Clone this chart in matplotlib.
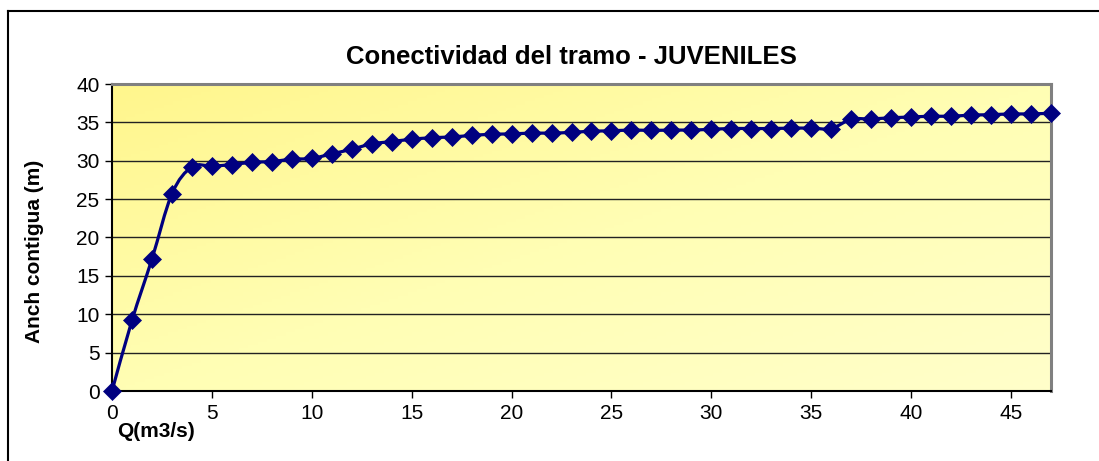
import numpy as np
import matplotlib
matplotlib.use("Agg")
import matplotlib.pyplot as plt
from matplotlib.path import Path
from matplotlib.patches import PathPatch
from matplotlib.lines import Line2D

# Datos
caudal = list(range(48))  # Q (m3/s)
anchura = [0.0, 9.2, 17.2, 25.7, 29.2, 29.3, 29.5, 29.8, 29.9, 30.2,
           30.3, 30.9, 31.5, 32.2, 32.5, 32.8, 33.0, 33.1, 33.3, 33.45,
           33.5, 33.6, 33.6, 33.7, 33.85, 33.9, 34.0, 33.95, 34.0, 34.0,
           34.1, 34.2, 34.2, 34.2, 34.25, 34.25, 34.2, 35.4, 35.45, 35.6,
           35.7, 35.8, 35.8, 35.95, 36.0, 36.1, 36.1, 36.2]
titulo = "Conectividad del tramo - JUVENILES"
etiqueta_x = "Q(m3/s)"
etiqueta_y = "Anch contigua (m)"
ticks_x = [0, 5, 10, 15, 20, 25, 30, 35, 40, 45]
ticks_y = [0, 5, 10, 15, 20, 25, 30, 35, 40]

plt.rcParams['font.family'] = ['Liberation Sans', 'DejaVu Sans']

fig = plt.figure(figsize=(10.99, 4.61), dpi=100)
ax = fig.add_axes([112/1099, 1-391/461, (1051-112)/1099, (391-84)/461])

# Fondo degradado diagonal (estilo Excel)
nx, ny = 200, 100
u = np.linspace(0, 1, nx)[None, :]
v = np.linspace(0, 1, ny)[:, None]
t = (u + v) / 2  # 0 arriba-izquierda, 1 abajo-derecha
c0 = np.array([255, 246, 140]) / 255
c1 = np.array([255, 254, 180]) / 255
c2 = np.array([255, 255, 202]) / 255
tt = t[..., None]
img = np.where(tt < 0.5, c0 + (c1 - c0) * (tt / 0.5), c1 + (c2 - c1) * ((tt - 0.5) / 0.5))
ax.imshow(img, extent=[0, 1, 0, 1], transform=ax.transAxes, aspect='auto', zorder=0)

# Lineas de cuadricula
for yv in ticks_y[1:-1]:
    ax.axhline(yv, color='#222222', lw=1.0, zorder=1)

# Linea suavizada (Bezier a traves de los puntos)
xs = np.array(caudal, dtype=float)
ys = np.array(anchura)
pts = np.column_stack([xs, ys])
verts = [pts[0]]
codes = [Path.MOVETO]
n = len(pts)
for i in range(n - 1):
    p0 = pts[i - 1] if i > 0 else pts[i]
    p1 = pts[i]
    p2 = pts[i + 1]
    p3 = pts[i + 2] if i + 2 < n else pts[i + 1]
    verts += [p1 + (p2 - p0) / 6, p2 - (p3 - p1) / 6, p2]
    codes += [Path.CURVE4] * 3
ax.add_patch(PathPatch(Path(verts, codes), fill=False, edgecolor='#000080',
                       lw=2.3, zorder=3, clip_on=False))

ax.plot(caudal, anchura, linestyle='none', marker='D', ms=9.3, mew=0.5,
        color='#000080', zorder=4, clip_on=False)

ax.set_xlim(0, 47)
ax.set_ylim(0, 40)
ax.set_xticks(ticks_x)
ax.set_yticks(ticks_y)
ax.tick_params(direction='out', length=5, width=1, labelsize=15, pad=4,
               colors='black')

for s in ['left', 'bottom']:
    ax.spines[s].set_color('black')
    ax.spines[s].set_linewidth(1.5)
for s in ['top', 'right']:
    ax.spines[s].set_color('#808080')
    ax.spines[s].set_linewidth(2.2)

fig.text(571/1099, 1-57/461, titulo, ha='center', va='center',
         fontsize=18.5, fontweight='bold')
fig.text(117/1099, 1-431/461, etiqueta_x, ha='left', va='center',
         fontsize=15, fontweight='bold')
fig.text(35/1099, 1-251/461, etiqueta_y, ha='center', va='center',
         rotation=90, fontsize=15, fontweight='bold')

# Borde del area del grafico
fig.add_artist(Line2D([8/1099, 8/1099], [0, 1-11/461], color='black', lw=1.5))
fig.add_artist(Line2D([8/1099, 1], [1-11/461, 1-11/461], color='black', lw=1.5))

fig.savefig('out.png', dpi=100)
